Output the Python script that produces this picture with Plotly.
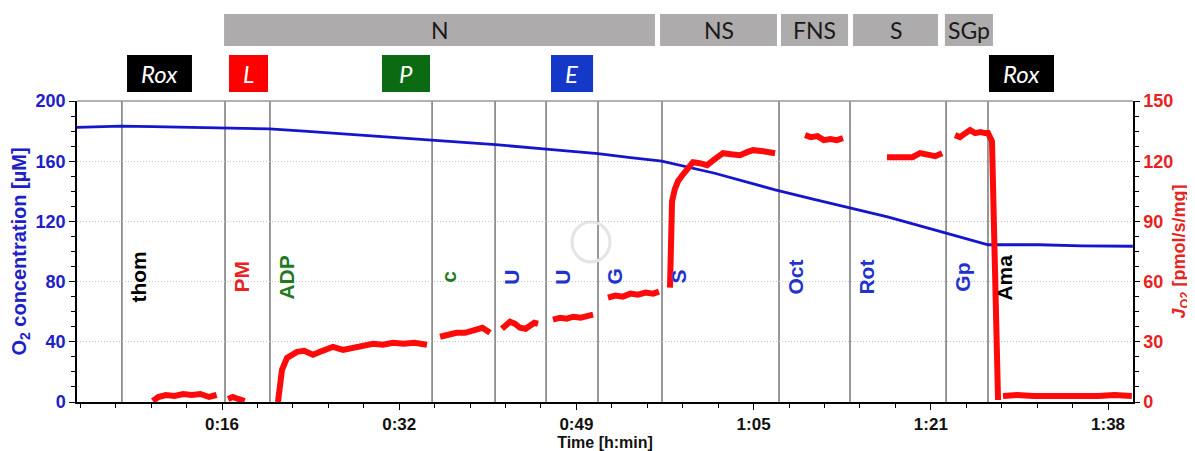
import plotly.graph_objects as go

# ---------------- data ----------------
# time in minutes
o2_t = [2.98, 5.0, 7.0, 10.0, 13.0, 16.7, 20.8, 24.0, 28.0, 32.0, 35.8, 41.7, 46.4, 51.2, 54.0, 57.1,
        62.0, 67.6, 71.0, 74.2, 78.0, 83.0, 85.5, 87.3, 88.5, 92.0, 96.0, 100.7]
o2_v = [182.5, 183.0, 183.3, 183.0, 182.5, 182.0, 181.5, 180.0, 178.0, 176.0, 174.0, 171.0, 168.0, 165.0,
        162.5, 160.0, 152.0, 141.0, 135.0, 129.5, 123.0, 113.0, 108.0, 104.5, 104.5, 104.5, 103.7, 103.5]

flux_rox_t = [10.0, 10.5, 11.2, 12.0, 12.8, 13.6, 14.4, 15.2, 15.9]
flux_rox_v = [0.5, 2.5, 3.5, 3.0, 4.0, 3.5, 4.0, 2.5, 3.5]
flux_pm_t = [16.96, 17.4, 17.9, 18.5]
flux_pm_v = [1.5, 2.5, 1.5, 0.5]
flux_adp_t = [21.58, 21.7, 21.95, 22.42, 23.34, 24.0, 24.82, 25.7, 26.67, 27.6, 28.52, 29.4, 30.37, 31.3,
              32.23, 33.2, 34.2, 35.37]
flux_adp_v = [0, 8, 16, 22, 25, 25.5, 23.5, 25.5, 27.5, 26, 27, 28, 29, 28.5, 29.5, 29, 29.5, 28.5]
flux_c_t = [36.58, 37.3, 38.1, 38.9, 39.7, 40.5, 41.2]
flux_c_v = [32.5, 33.5, 34.5, 34.5, 35.5, 37.0, 34.5]
flux_u1_t = [42.31, 42.8, 43.05, 43.5, 43.98, 44.5, 44.91, 45.3, 45.65]
flux_u1_v = [36.5, 39, 40, 39, 37, 36.5, 38.5, 39.5, 39]
flux_u2_t = [47.03, 47.7, 48.3, 48.9, 49.6, 50.2, 50.74]
flux_u2_v = [41, 42, 41.5, 42.5, 42, 43, 43.5]
flux_g_t = [52.12, 52.8, 53.5, 54.2, 54.9, 55.6, 56.3, 56.84]
flux_g_v = [52, 53, 52.5, 54, 53.5, 54.5, 54, 55]
flux_s_t = [57.86, 58.0, 58.05, 58.3, 58.6, 59.0, 59.43, 59.99, 60.6, 61.29, 62.0, 62.77, 63.5, 64.34,
            65.0, 65.54, 66.5, 67.58]
flux_s_v = [57, 90, 100, 106, 110, 113, 115.5, 119.5, 119, 118, 121, 124, 123.5, 123, 124.5, 125.5, 125, 124]
flux_oct_t = [70.36, 70.9, 71.5, 72.1, 72.7, 73.3, 73.87]
flux_oct_v = [133, 132, 132.5, 130.5, 131, 130.5, 131.5]
flux_rot_t = [77.94, 78.7, 79.5, 80.3, 81.0, 81.8, 82.4, 83.04]
flux_rot_v = [122, 122, 121.5, 122, 124, 123, 122.5, 124]
flux_gp_t = [84.24, 84.7, 85.2, 85.63, 86.1, 86.6, 87.0, 87.29, 87.66, 87.94, 88.22]
flux_gp_v = [133, 132, 134, 135.5, 134, 134.5, 134, 134, 130, 60, 1]
flux_ama_t = [88.68, 90.0, 91.5, 93.0, 94.5, 96.0, 97.5, 99.0, 100.6]
flux_ama_v = [3, 3.5, 3, 3, 2.5, 3, 3, 3.5, 3]

event_names = ["thom", "PM", "ADP", "c", "U", "U", "G", "S", "Oct", "Rot", "Gp", "Ama"]
event_times = [7.14, 16.68, 20.84, 35.84, 41.67, 46.39, 51.2, 57.12, 67.95, 74.52, 83.41, 87.29]
event_colors = ["#000000", "#e8231f", "#1e7a1e", "#1e7a1e", "#2233cc", "#2233cc", "#2233cc",
                "#2233cc", "#2233cc", "#2233cc", "#2233cc", "#000000"]

state_names = ["N", "NS", "FNS", "S", "SGp"]
state_start = [16.59, 56.94, 68.13, 74.80, 83.30]
state_end = [56.47, 67.76, 74.34, 82.66, 87.75]

mode_names = ["Rox", "L", "P", "E", "Rox"]
mode_start = [7.61, 17.05, 31.21, 46.85, 87.38]
mode_end = [13.62, 20.66, 35.65, 50.74, 93.40]
mode_colors = ["#000000", "#ff0000", "#0b6b12", "#1438c8", "#000000"]

x_tickvals = [16.4, 32.8, 49.2, 65.6, 82.0, 98.4]
x_ticktext = ["0:16", "0:32", "0:49", "1:05", "1:21", "1:38"]

# ---------------- figure ----------------
segments = [(flux_rox_t, flux_rox_v), (flux_pm_t, flux_pm_v), (flux_adp_t, flux_adp_v),
            (flux_c_t, flux_c_v), (flux_u1_t, flux_u1_v), (flux_u2_t, flux_u2_v),
            (flux_g_t, flux_g_v), (flux_s_t, flux_s_v), (flux_oct_t, flux_oct_v),
            (flux_rot_t, flux_rot_v), (flux_gp_t, flux_gp_v), (flux_ama_t, flux_ama_v)]
fx, fy = [], []
for t, v in segments:
    fx += list(t) + [None]
    fy += list(v) + [None]

BLUE = "#2020c8"
RED = "#e8231f"
AX_FONT = "Liberation Sans, Arial, sans-serif"
BOX_FONT = "Lato, Open Sans, sans-serif"

fig = go.Figure()

# event lines
for t in event_times:
    fig.add_shape(type="line", xref="x", yref="paper", x0=t, x1=t, y0=0, y1=1,
                  line=dict(color="#333333", width=1), layer="below")

# faint watermark logo
fig.add_shape(type="circle", xref="paper", yref="paper",
              x0=(572 - 77) / 1056, x1=(610 - 77) / 1056,
              y0=(402 - 262) / 301, y1=(402 - 222) / 301,
              line=dict(color="#e4e4e4", width=3), layer="below")

fig.add_trace(go.Scatter(x=o2_t, y=o2_v, mode="lines", line=dict(color="#1515cc", width=2.8),
                         yaxis="y", showlegend=False, hoverinfo="skip"))
fig.add_trace(go.Scatter(x=fx, y=fy, mode="lines", line=dict(color="#ff0a0a", width=6),
                         yaxis="y2", showlegend=False, hoverinfo="skip", connectgaps=False))

# event labels
for name, t, c in zip(event_names, event_times, event_colors):
    fig.add_annotation(x=t, y=83, xref="x", yref="y", text="<b>%s</b>" % name, textangle=-90,
                       showarrow=False, xanchor="left", yanchor="middle", xshift=3,
                       font=dict(family=AX_FONT, size=21, color=c))

# top boxes (paper y computed from page pixel rows; plot spans rows 101..402)
r1 = ((402 - 46) / 301, (402 - 14) / 301)
r2 = ((402 - 92) / 301, (402 - 55) / 301)
for name, a, b in zip(state_names, state_start, state_end):
    fig.add_shape(type="rect", xref="x", yref="paper", x0=a, x1=b, y0=r1[0], y1=r1[1],
                  fillcolor="#adabab", line=dict(width=0))
    fig.add_annotation(x=(a + b) / 2, y=(r1[0] + r1[1]) / 2, xref="x", yref="paper", text=name,
                       showarrow=False, xanchor="center", yanchor="middle",
                       font=dict(family=BOX_FONT, size=23, color="#1a1a1a"))
for name, a, b, c in zip(mode_names, mode_start, mode_end, mode_colors):
    fig.add_shape(type="rect", xref="x", yref="paper", x0=a, x1=b, y0=r2[0], y1=r2[1],
                  fillcolor=c, line=dict(width=0))
    fig.add_annotation(x=(a + b) / 2, y=(r2[0] + r2[1]) / 2, xref="x", yref="paper",
                       text="<i>%s</i>" % name, showarrow=False, xanchor="center", yanchor="middle",
                       font=dict(family=BOX_FONT, size=24, color="white"))

# top border
fig.add_shape(type="line", xref="paper", yref="paper", x0=0, x1=1, y0=1, y1=1,
              line=dict(color="#999999", width=1.5))

# page body has an 8px margin: figure is 1187x443 placed at (8, 8)
fig.update_layout(
    width=1187, height=443,
    margin=dict(l=69, r=62, t=93, b=49),
    plot_bgcolor="white", paper_bgcolor="white",
    xaxis=dict(range=[2.98, 100.71], tickvals=x_tickvals, ticktext=x_ticktext, automargin=False,
               showgrid=False, zeroline=False, showline=True, linecolor="black", linewidth=1.5,
               ticks="outside", ticklen=6, tickcolor="black",
               minor=dict(dtick=3.28, tick0=16.4, ticks="outside", ticklen=4, tickcolor="black"),
               tickfont=dict(family=AX_FONT, size=17, color="#111111", weight="bold"),
               title=dict(text="<b>Time [h:min]</b>", standoff=3,
                          font=dict(family=AX_FONT, size=16, color="#111111"))),
    yaxis=dict(range=[0, 200], dtick=40, showgrid=True, gridcolor="#c4c4c4", griddash="1px,2px",
               gridwidth=1, zeroline=False, showline=True, linecolor="black", linewidth=1.5,
               ticks="outside", ticklen=6, tickcolor="black", automargin=False,
               minor=dict(dtick=10, ticks="outside", ticklen=4, tickcolor="black", showgrid=False),
               tickfont=dict(family=AX_FONT, size=18, color=BLUE, weight="bold"),
               title=dict(text="<b>O<sub>2</sub> concentration [µM]</b>", standoff=4,
                          font=dict(family=AX_FONT, size=20, color=BLUE))),
    yaxis2=dict(range=[0, 150], dtick=30, overlaying="y", side="right", showgrid=False,
                zeroline=False, showline=True, linecolor="black", linewidth=1.5, automargin=False,
                ticks="outside", ticklen=5, tickcolor="black",
                minor=dict(dtick=7.5, ticks="outside", ticklen=4, tickcolor="black"),
                tickfont=dict(family=AX_FONT, size=18, color=RED, weight="bold"),
                title=dict(text="<b><i>J</i><sub>O2</sub> [pmol/s/mg]</b>", standoff=0,
                           font=dict(family=AX_FONT, size=18, color=RED))),
)

fig.write_html("out.html")
